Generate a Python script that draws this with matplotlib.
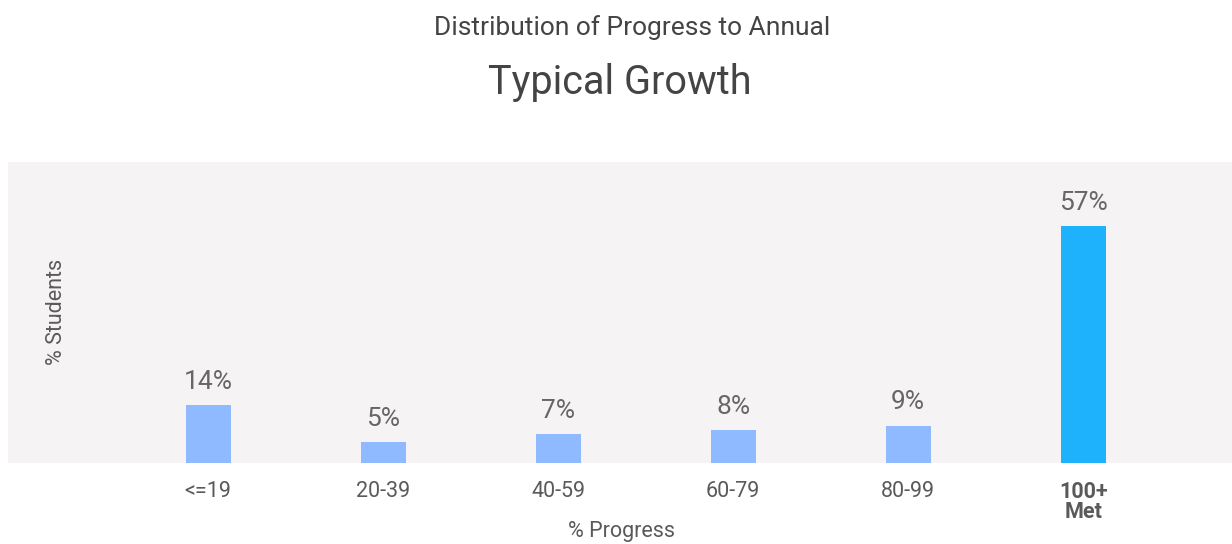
import matplotlib
matplotlib.use('Agg')
import matplotlib.pyplot as plt
import numpy as np

plt.rcParams['font.family'] = ['Roboto', 'DejaVu Sans']

# Data
categories = ['<=19', '20-39', '40-59', '60-79', '80-99', '100+\nMet']
values = [14, 5, 7, 8, 9, 57]
bar_colors = ['#8fbaff'] * 5 + ['#1eb1fc']

text_color = '#5a5a5a'

fig = plt.figure(figsize=(12.32, 5.44), dpi=100)
ax = fig.add_axes([8 / 1232, 1 - 463 / 544, 1224 / 1232, 301 / 544])
ax.set_facecolor('#f5f3f4')

x = np.arange(len(categories))
ax.bar(x, values, width=0.257, color=bar_colors, zorder=2)

for xi, v in zip(x, values):
    ax.annotate(f'{v}%', (xi, v), xytext=(0, 8), textcoords='offset points',
                ha='center', va='bottom', fontsize=19, color='#666666')

ax.set_xlim(-1.143, 5.85)
ax.set_ylim(0, 72.4)
ax.set_xticks(x)
ax.set_xticklabels(categories, fontsize=15.5, color=text_color, linespacing=0.9)
ax.get_xticklabels()[-1].set_fontweight('bold')
ax.tick_params(axis='x', length=0, pad=13)
ax.set_yticks([])
for s in ax.spines.values():
    s.set_visible(False)

# axis titles placed directly (the two-line tick label would push xlabel down)
fig.text(621 / 1232, 1 - 531 / 544, '% Progress', fontsize=15.5,
         color=text_color, ha='center', va='center')
fig.text(57 / 1232, 1 - 312 / 544, '% Students', rotation=90, fontsize=15.5,
         color=text_color, ha='center', va='center')

fig.text(632 / 1232, 1 - 28 / 544, 'Distribution of Progress to Annual', fontsize=19,
         color='#444444', ha='center', va='center')
fig.text(620 / 1232, 1 - 82 / 544, 'Typical Growth', fontsize=28.5,
         color='#444444', ha='center', va='center')

fig.savefig('out.png', dpi=100)
